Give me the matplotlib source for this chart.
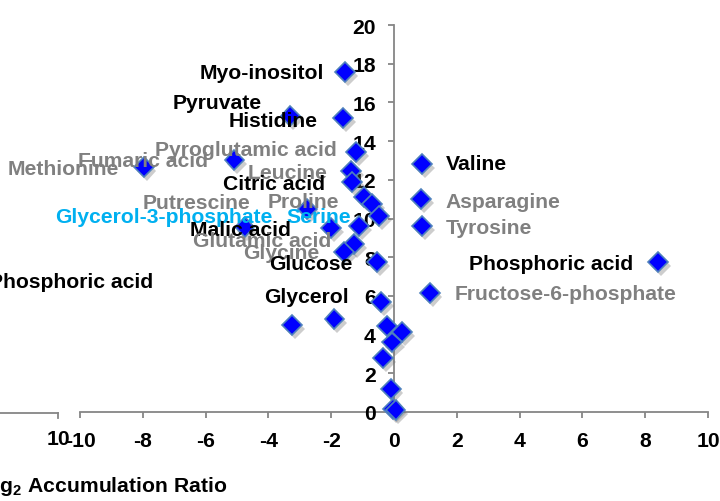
import matplotlib
matplotlib.use("Agg")
import matplotlib.pyplot as plt
from matplotlib.lines import Line2D
import matplotlib.patheffects as pe

plt.rcParams['font.family'] = ['Liberation Sans', 'DejaVu Sans']
plt.rcParams['font.weight'] = 'bold'
plt.rcParams['mathtext.fontset'] = 'custom'
plt.rcParams['mathtext.rm'] = 'Liberation Sans:bold'
plt.rcParams['mathtext.bf'] = 'Liberation Sans:bold'

# ---- data (log2 accumulation ratio vs. second coordinate) ----
x_vals = [-1.56, -1.62, -3.30, -1.21, -5.08, -7.97, -1.37, -1.33, -0.95, -0.70,
          -0.48, -2.76, -2.00, -1.11, -1.27, -1.59, -0.54, -4.76, -0.41, -3.24,
          -1.90, -0.22, 0.26, -0.06, -0.35, -0.10, -0.03, 0.05, 0.89, 0.86,
          0.89, 8.41, 1.14]
y_vals = [17.57, 15.19, 15.30, 13.45, 13.02, 12.66, 12.47, 11.89, 11.10, 10.75,
          10.13, 10.49, 9.50, 9.60, 8.68, 8.27, 7.75, 9.56, 5.68, 4.50,
          4.80, 4.46, 4.15, 3.60, 2.80, 1.20, 0.15, 0.10, 12.80, 11.00,
          9.60, 7.76, 6.15]

x_ticks = [-10, -8, -6, -4, -2, 0, 2, 4, 6, 8, 10]
y_ticks = [0, 2, 4, 6, 8, 10, 12, 14, 16, 18, 20]

label_names = ["Myo-inositol", "Pyruvate", "Histidine", "Pyroglutamic acid",
               "Fumaric acid", "Methionine", "Leucine", "Citric acid",
               "Putrescine", "Proline", "Glycerol-3-phosphate", "Serine",
               "Malic acid", "Glutamic acid", "Glycine", "Glucose", "Glycerol",
               "Valine", "Asparagine", "Tyrosine", "Phosphoric acid",
               "Fructose-6-phosphate", "Phosphoric acid"]

# ---- label layout (position in data coords, alignment, colour) ----
BLACK, GRAY, CYAN = "#000000", "#808080", "#00B0F0"
label_layout = [
    (-2.22, 17.57, 'right', BLACK),
    (-7.05, 16.02, 'left', BLACK),
    (-2.44, 15.09, 'right', BLACK),
    (-7.62, 13.59, 'left', GRAY),
    (-10.06, 13.02, 'left', GRAY),
    (-12.29, 12.56, 'left', GRAY),
    (-4.67, 12.40, 'left', GRAY),
    (-5.43, 11.83, 'left', BLACK),
    (-8.00, 10.85, 'left', GRAY),
    (-4.03, 10.90, 'left', GRAY),
    (-10.79, 10.08, 'left', CYAN),
    (-3.43, 10.08, 'left', CYAN),
    (-6.51, 9.41, 'left', BLACK),
    (-6.41, 8.84, 'left', GRAY),
    (-4.79, 8.22, 'left', GRAY),
    (-3.97, 7.65, 'left', BLACK),
    (-4.13, 5.99, 'left', BLACK),
    (1.65, 12.82, 'left', BLACK),
    (1.65, 10.90, 'left', GRAY),
    (1.65, 9.51, 'left', GRAY),
    (2.38, 7.70, 'left', BLACK),
    (1.94, 6.10, 'left', GRAY),
    (-7.68, 6.77, 'right', BLACK),
]

FS = 15.2
AXCOL = "#868686"

fig = plt.figure(figsize=(7.2, 5.02), dpi=100)
ax = fig.add_axes([80/720, 1-413/502, 628/720, 387/502])
ax.set_xlim(-10, 10)
ax.set_ylim(0, 20)

ax.plot(x_vals, y_vals, linestyle='none', marker='D', markersize=10,
        markerfacecolor='#0000FF', markeredgecolor='#4F81BD', markeredgewidth=1.2,
        zorder=2, clip_on=False,
        path_effects=[pe.SimplePatchShadow(offset=(2, -3), shadow_rgbFace='#707070', alpha=0.35),
                      pe.Normal()])

for name, (lx, ly, ha, col) in zip(label_names, label_layout):
    ax.text(lx, ly, name, ha=ha, va='center', color=col, fontsize=FS,
            fontweight='bold', zorder=3, clip_on=False)

for s in ['top', 'right']:
    ax.spines[s].set_visible(False)
ax.spines['left'].set_position(('data', 0))
ax.spines['bottom'].set_position(('data', 0))
for s in ['left', 'bottom']:
    ax.spines[s].set_color(AXCOL)
    ax.spines[s].set_linewidth(1.3)
    ax.spines[s].set_zorder(1)

ax.set_xticks(x_ticks)
ax.set_yticks(y_ticks)
ax.set_xticklabels([str(v) for v in x_ticks])
ax.set_yticklabels([str(v) for v in y_ticks])
ax.tick_params(axis='both', direction='out', length=4, width=1.3, color=AXCOL,
               labelsize=FS, labelcolor='black')
ax.tick_params(axis='x', pad=10)
ax.tick_params(axis='y', pad=9)
for t in ax.get_xticklabels() + ax.get_yticklabels():
    t.set_fontweight('bold')
    t.set_zorder(4)
ax.patch.set_visible(False)

# fragment of the neighbouring chart on the left
ybase = 1 - 414/502
fig.add_artist(Line2D([0, 58/720], [ybase, ybase], color=AXCOL, lw=1.3))
fig.add_artist(Line2D([58/720, 58/720], [ybase, ybase - 5/502], color=AXCOL, lw=1.3))
fig.text(58/720, 1 - 440/502, "10", ha='center', va='center', fontsize=FS,
         fontweight='bold')
fig.text(227/720, 1 - 487/502, r"Log$_{2}$ Accumulation Ratio", ha='right',
         va='center', fontsize=FS, fontweight='bold')

fig.savefig("out.png", dpi=100)
